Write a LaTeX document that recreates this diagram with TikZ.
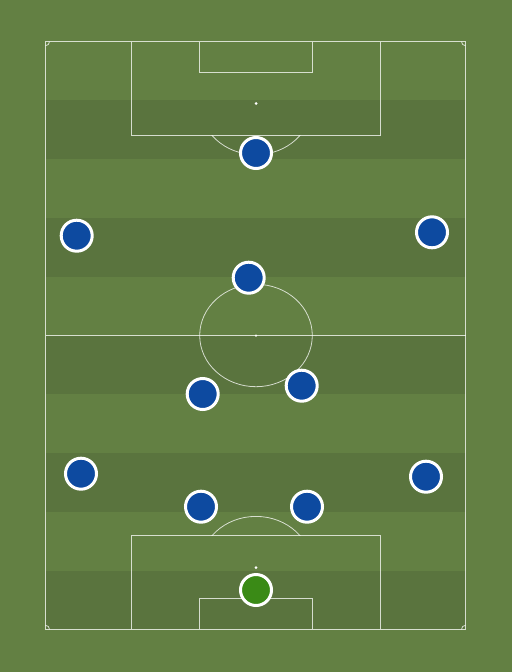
\documentclass[tikz,border=0pt]{standalone}
\usetikzlibrary{shadows}
\definecolor{grassL}{RGB}{99,128,67}
\definecolor{grassD}{RGB}{90,116,62}
\definecolor{plblue}{RGB}{13,74,160}
\definecolor{plgreen}{RGB}{58,138,22}
\tikzset{
  pline/.style={draw=white, draw opacity=0.75, line width=1pt},
  thinline/.style={draw=white, draw opacity=0.75, line width=0.8pt},
  player/.style={circle, draw=white, line width=3pt, minimum size=31pt, inner sep=0pt, fill=plblue,
    drop shadow={shadow xshift=0pt, shadow yshift=-1.2pt, opacity=0.25}},
  keeper/.style={player, fill=plgreen},
  spot/.style={circle, fill=white, inner sep=0pt, minimum size=3pt}
}
\begin{document}
\begin{tikzpicture}[x=1pt,y=-1pt]
\useasboundingbox (0,0) rectangle (512,672);
\fill[grassL] (0,0) rectangle (512,672);
% stripes
\foreach \i in {1,3,5,7,9}{
  \fill[grassD] (45.5,{41.7+\i*58.76}) rectangle (465.5,{41.7+(\i+1)*58.76});
}
% pitch outline
\draw[pline] (45.5,41.7) rectangle (465.5,629.3);
\draw[pline] (45.5,335.5) -- (465.5,335.5);
% center
\draw[thinline] (256,335.5) ellipse [x radius=56.3, y radius=51.2];
\node[spot, minimum size=2.5pt] (cs) at (256,335.5) {};
% top boxes
\draw[pline] (131.3,41.7) -- (131.3,135.3) -- (380.7,135.3) -- (380.7,41.7);
\draw[pline] (199.3,41.7) -- (199.3,72.6) -- (312.3,72.6) -- (312.3,41.7);
\node[spot] (ts) at (256,103.5) {};
\begin{scope}
  \clip (0,135.3) rectangle (512,300);
  \draw[thinline] (256,103.5) ellipse [x radius=56.3, y radius=51.2];
\end{scope}
% bottom boxes
\draw[pline] (131.3,629.3) -- (131.3,535.9) -- (380.7,535.9) -- (380.7,629.3);
\draw[pline] (199.3,629.3) -- (199.3,598.4) -- (312.3,598.4) -- (312.3,629.3);
\node[spot] (bs) at (256,567.6) {};
\begin{scope}
  \clip (0,400) rectangle (512,535.9);
  \draw[thinline] (256,567.6) ellipse [x radius=56.3, y radius=51.2];
\end{scope}
% corner arcs
\draw[thinline] (49.5,41.7) arc[start angle=0, end angle=90, radius=4];
\draw[thinline] (461.5,41.7) arc[start angle=180, end angle=90, radius=4];
\draw[thinline] (49.5,629.3) arc[start angle=0, end angle=-90, radius=4];
\draw[thinline] (461.5,629.3) arc[start angle=180, end angle=270, radius=4];
% players
\node[player] (p1) at (256,153) {};
\node[player] (p2) at (76.7,235.7) {};
\node[player] (p3) at (432,232.3) {};
\node[player] (p4) at (248.7,277.7) {};
\node[player] (p5) at (202.7,394) {};
\node[player] (p6) at (301.7,385.7) {};
\node[player] (p7) at (81,473.7) {};
\node[player] (p8) at (426,476.7) {};
\node[player] (p9) at (201,506.7) {};
\node[player] (p10) at (307,506.7) {};
\node[keeper] (gk) at (256,590) {};
\end{tikzpicture}
\end{document}
